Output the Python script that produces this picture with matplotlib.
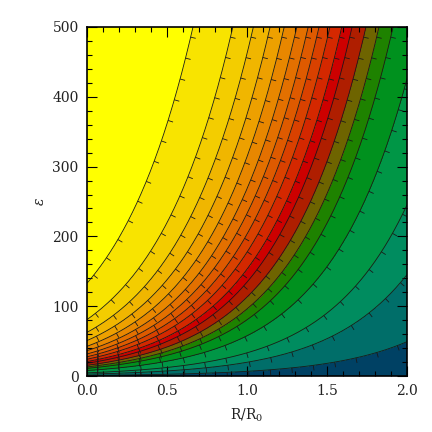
import numpy as np
import matplotlib
matplotlib.use("Agg")
import matplotlib.pyplot as plt
from matplotlib import patheffects

levels = [0.9, 2.66, 4.49, 7.8, 10.9, 13.0, 15.3, 18.2, 20.7, 24.0,
          27.5, 31.5, 36.3, 42.5, 50.7, 62.5, 80.8, 132.9]
growth = 2.0  # eps of a contour grows like exp(growth*R)

# fill colours, low to high
fill_colors = ['#004164', '#006e69', '#008c5f', '#009646', '#00911e',
               '#1e8200', '#6e6400', '#af1e00', '#cd0000', '#d42800',
               '#d94100', '#de5a00', '#e37000', '#e88700', '#eda000',
               '#f0b600', '#f3cd00', '#f8e400', '#ffff00']

x_ticks = [0.0, 0.5, 1.0, 1.5, 2.0]
y_ticks = [0, 100, 200, 300, 400, 500]

R = np.linspace(0, 2, 500)
eps = np.linspace(0, 500, 500)
RR, EE = np.meshgrid(R, eps)
Z = EE * np.exp(-growth * RR)

plt.rcParams['font.family'] = 'DejaVu Serif'
plt.rcParams['mathtext.fontset'] = 'dejavuserif'

fig = plt.figure(figsize=(4.32, 4.32), dpi=100)
ax = fig.add_axes([87/432, 56/432, 320/432, 349/432])

bounds = [-1.0] + levels + [1e4]
ax.contourf(RR, EE, Z, levels=bounds, colors=fill_colors)
cs = ax.contour(RR, EE, Z, levels=levels, colors='#1a1a1a', linewidths=0.6)
cs.set(path_effects=[patheffects.withTickedStroke(spacing=15, angle=-90, length=0.25)])

ax.set_xlim(0, 2)
ax.set_ylim(0, 500)
ax.set_xticks(x_ticks)
ax.set_xticklabels([f"{v:.1f}" for v in x_ticks])
ax.set_yticks(y_ticks)
ax.set_xticks(np.arange(0, 2.01, 0.1), minor=True)
ax.set_yticks(np.arange(0, 501, 20), minor=True)
ax.tick_params(which='both', direction='in', top=True, right=True, width=0.8,
               labelsize=10, color='black', labelcolor='#222222')
ax.tick_params(which='major', length=7, pad=6)
ax.tick_params(which='minor', length=3.5)
for s in ax.spines.values():
    s.set_linewidth(1.2)

ax.set_xlabel(r'R/R$_0$', fontsize=10, labelpad=6, color='#222222')
ax.set_ylabel(r'$\epsilon$', fontsize=10, labelpad=4, color='#222222')

fig.savefig('out.png', dpi=100)
